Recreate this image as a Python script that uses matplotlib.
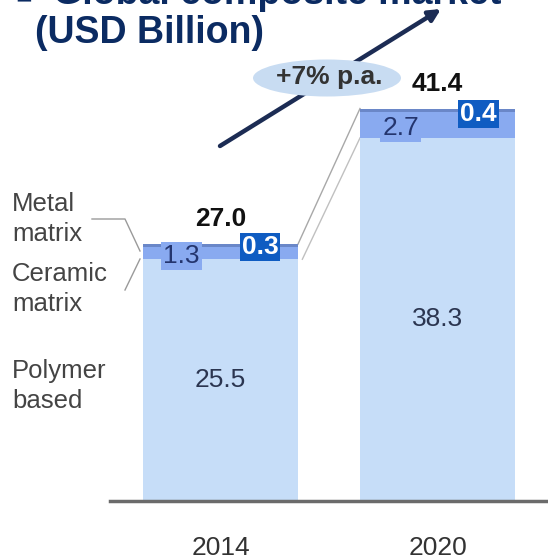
import matplotlib as mpl
mpl.use('Agg')
import matplotlib.pyplot as plt
from matplotlib.patches import Ellipse

plt.rcParams['font.family'] = ['Liberation Sans', 'DejaVu Sans']

years = ["2014", "2020"]
polymer = [25.5, 38.3]
ceramic = [1.3, 2.7]
metal = [0.3, 0.4]
totals = [27.0, 41.4]
growth = "+7% p.a."

navy = "#0b2b62"
c_polymer = "#c6ddf8"
c_ceramic = "#89aaf0"
c_metal = "#6a87c8"
c_box_dark = "#0f5cc2"
W, H = 548, 560
fs = 19


def px(x, y):
    # pixel position (from top-left) -> figure fraction
    return (x / W, 1 - y / H)


fig = plt.figure(figsize=(W / 100, H / 100), dpi=100)
ax = fig.add_axes([0, 59 / H, 1, 426.6 / H])
ax.set_xlim(-220.5 / 217, (W - 220.5) / 217)
ax.set_ylim(0, 45)
ax.axis("off")

xs = [0, 1]
bw = 155 / 217
ax.bar(xs, polymer, width=bw, color=c_polymer, zorder=2)
ax.bar(xs, ceramic, width=bw, bottom=polymer, color=c_ceramic, zorder=2)
bot2 = [p + c for p, c in zip(polymer, ceramic)]
ax.bar(xs, metal, width=bw, bottom=bot2, color=c_metal, zorder=2)

# baseline
ax.plot([110 / W, 1], [0, 0], transform=ax.transAxes, color="#6b6b6b",
        lw=2.5, clip_on=False, zorder=3)

# connectors between the thin segments of both bars
tops = [p + c + m for p, c, m in zip(polymer, ceramic, metal)]
ax.plot([bw / 2, 1 - bw / 2], tops, color="#a8a8a8", lw=1, zorder=1)
ax.plot([bw / 2 + 0.02, 1 - bw / 2], polymer, color="#c0c0c0", lw=1, zorder=1)

for i, x in enumerate(xs):
    ax.text(x, polymer[i] / 2, "{:.1f}".format(polymer[i]), ha="center", va="center",
            fontsize=fs, color="#2b3550", zorder=4)
    ax.annotate("{:.1f}".format(totals[i]), (x, tops[i]), xytext=(0, 18),
                textcoords="offset points", ha="center", va="center",
                fontsize=fs, fontweight="bold", color="#111111", zorder=4)
    # ceramic label box
    ax.text(x - 0.18 + 0.01 * i, polymer[i] + ceramic[i] / 2 - 0.3, "{:.1f}".format(ceramic[i]),
            ha="center", va="center", fontsize=fs, color="#24356e", zorder=5,
            bbox=dict(boxstyle="square,pad=0.08", fc=c_ceramic, ec="none"))
    # metal label box
    ax.text(x + 0.182 + 0.005 * i, tops[i] - 0.3 - 0.3 * i, "{:.1f}".format(metal[i]),
            ha="center", va="center", fontsize=fs, fontweight="bold", color="white",
            zorder=5, bbox=dict(boxstyle="square,pad=0.08", fc=c_box_dark, ec="none"))
    ax.text(x, -4.95, years[i], ha="center", va="center", fontsize=fs,
            color="#333333")

# segment legend on the left
lbl = dict(fontsize=18.5, color="#444444", ha="left", va="center", linespacing=1.3)
fig.text(*px(12, 219), "Metal\nmatrix", **lbl)
fig.text(*px(12, 289), "Ceramic\nmatrix", **lbl)
fig.text(*px(12, 386), "Polymer\nbased", **lbl)
lead = dict(color="#9a9a9a", lw=1, transform=fig.transFigure)
fig.add_artist(plt.Line2D(*zip(px(92, 219), px(125, 219), px(140, 251)), **lead))
fig.add_artist(plt.Line2D(*zip(px(125, 290), px(140, 259)), **lead))

# growth arrow with badge
ax.annotate("", xy=px(441, 9), xytext=px(220, 146), xycoords="figure fraction",
            textcoords="figure fraction",
            arrowprops=dict(arrowstyle="-|>,head_length=0.7,head_width=0.35",
                            color="#1c2c54", lw=3.2, shrinkA=0, shrinkB=0), zorder=6)
ell = Ellipse(px(327, 78), 148 / W, 37 / H, transform=fig.transFigure,
              fc="#c8dcf2", ec="none", zorder=7)
fig.add_artist(ell)
fig.text(*px(329, 77), growth, ha="center", va="center", fontsize=fs,
         fontweight="bold", color="#333333", zorder=8)

# heading
fig.text(*px(15, 2), "\u25a0", fontsize=20, color=navy, ha="left", va="baseline")
fig.text(*px(53, 4), "Global composite market", fontsize=27, fontweight="bold",
         color=navy, ha="left", va="baseline")
fig.text(*px(35, 43), "(USD Billion)", fontsize=27, fontweight="bold",
         color=navy, ha="left", va="baseline")

fig.savefig("out.png", dpi=100)
